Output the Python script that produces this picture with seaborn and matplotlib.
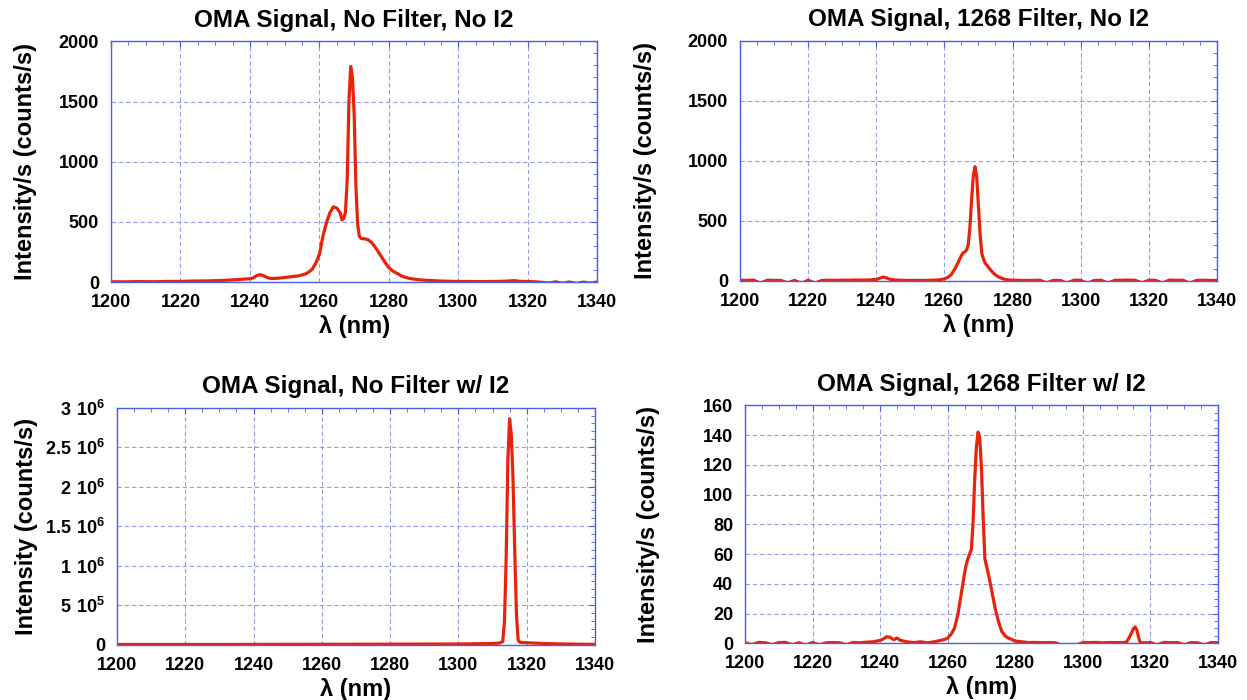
import matplotlib
matplotlib.use('Agg')
import matplotlib.pyplot as plt
import seaborn as sns
from matplotlib.ticker import MultipleLocator, AutoMinorLocator, FixedLocator, FixedFormatter

sns.set_theme(style='white')
plt.rcParams['font.family'] = ['Liberation Sans', 'DejaVu Sans']
plt.rcParams['font.weight'] = 'bold'
plt.rcParams['text.color'] = 'black'
plt.rcParams['axes.labelcolor'] = 'black'
plt.rcParams['mathtext.fontset'] = 'custom'
plt.rcParams['mathtext.rm'] = 'Liberation Sans:bold'
plt.rcParams['mathtext.bf'] = 'Liberation Sans:bold'

RED = '#e8230c'
BLUE = '#4a5ee6'
GRID = '#959cf0'

# --- No filter, no I2 ---
wl_a = [1200, 1204, 1208, 1212, 1216, 1220, 1224, 1228, 1232, 1236,
        1238, 1240, 1241, 1242, 1243, 1244, 1245, 1246, 1248, 1250,
        1252, 1254, 1256, 1257, 1258, 1259, 1260, 1261, 1262, 1263,
        1264, 1265, 1266, 1266.5, 1267, 1267.5, 1268, 1268.5, 1269, 1269.5,
        1270, 1270.5, 1271, 1271.5, 1272, 1273, 1274, 1275, 1276, 1277,
        1278, 1279, 1280, 1281, 1282, 1284, 1286, 1288, 1290, 1294,
        1298, 1302, 1306, 1310, 1314, 1316, 1318, 1322, 1326, 1328,
        1330, 1332, 1334, 1336, 1338, 1340]
sig_a = [3, 2, 4, 3, 5, 6, 9, 10, 14, 20,
         24, 28, 35, 55, 62, 52, 38, 30, 32, 38,
         45, 52, 68, 85, 110, 160, 230, 380, 490, 575,
         625, 615, 575, 515, 530, 580, 850, 1500, 1790, 1700,
         1400, 800, 480, 380, 362, 360, 352, 330, 292, 250,
         205, 160, 120, 95, 78, 46, 30, 22, 16, 10,
         6, 5, 4, 5, 8, 12, 6, 3, -8, 2,
         -10, 1, -12, 0, -9, 1]

# --- 1268 filter, no I2 ---
wl_b = [1200, 1202, 1204, 1206, 1208, 1210, 1212, 1214, 1216, 1218,
        1220, 1222, 1224, 1226, 1228, 1230, 1232, 1234, 1236, 1238,
        1240, 1241, 1242, 1243, 1244, 1246, 1248, 1250, 1252, 1254,
        1256, 1258, 1259, 1260, 1261, 1262, 1263, 1264, 1265, 1265.5,
        1266, 1266.5, 1267, 1267.5, 1268, 1268.5, 1269, 1269.5, 1270, 1270.5,
        1271, 1271.5, 1272, 1273, 1274, 1275, 1276, 1277, 1278, 1279,
        1280, 1282, 1284, 1286, 1288, 1290, 1292, 1294, 1296, 1298,
        1300, 1302, 1304, 1306, 1308, 1310, 1312, 1314, 1316, 1318,
        1320, 1322, 1324, 1326, 1328, 1330, 1332, 1334, 1336, 1338,
        1340]
sig_b = [4, 3, 5, -20, 4, 3, 2, -18, 3, -22,
         4, -20, 2, 4, 3, 5, 4, 6, 5, 6,
         10, 20, 30, 24, 12, 5, 3, 2, 3, 2,
         4, 6, 10, 15, 28, 50, 95, 150, 210, 232,
         240, 255, 300, 450, 680, 880, 950, 860, 620, 380,
         225, 180, 145, 110, 75, 48, 30, 18, 10, 6,
         4, 3, 2, 3, 4, -18, 3, 2, -20, 4,
         3, -22, 2, 4, -20, 3, 4, 5, 3, -18,
         4, 3, -20, 5, 3, 4, -22, 3, 4, 2,
         3]

# --- No filter, with I2 ---
wl_c = [1200, 1220, 1240, 1260, 1280, 1300, 1305, 1310, 1312, 1313,
        1313.5, 1314, 1314.5, 1315, 1315.5, 1316, 1316.5, 1317, 1317.5, 1318,
        1320, 1325, 1330, 1335, 1340]
sig_c = [3e3, 3e3, 4e3, 5e3, 7e3, 9e3, 12e3, 15e3, 20e3, 40e3,
         3.0e5, 1.1e6, 2.35e6, 2.86e6, 2.66e6, 2.1e6, 1.2e6, 4.0e5, 6e4, 3e4,
         2.5e4, 1.5e4, 1e4, 6e3, 5e3]

# --- 1268 filter, with I2 ---
wl_d = [1200, 1202, 1204, 1206, 1208, 1210, 1212, 1214, 1216, 1218,
        1220, 1222, 1224, 1226, 1228, 1230, 1232, 1234, 1236, 1238,
        1240, 1241, 1242, 1243, 1244, 1245, 1246, 1248, 1250, 1252,
        1254, 1256, 1258, 1259, 1260, 1261, 1262, 1263, 1264, 1265,
        1265.5, 1266, 1266.5, 1267, 1267.5, 1268, 1268.5, 1269, 1269.5, 1270,
        1270.5, 1271, 1271.5, 1272, 1273, 1274, 1275, 1276, 1277, 1278,
        1279, 1280, 1282, 1284, 1286, 1288, 1290, 1292, 1294, 1296,
        1298, 1300, 1302, 1304, 1306, 1308, 1310, 1312, 1313, 1314,
        1315, 1315.5, 1316, 1316.5, 1317, 1318, 1320, 1322, 1324, 1326,
        1328, 1330, 1332, 1334, 1336, 1338, 1340]
sig_d = [0.5, -1, 0.6, 0.4, -1, 0.5, 0.6, -1, 0.4, -1.2,
         0.5, -1, 0.3, 0.5, 0.4, -1, 0.6, 0.3, 0.8, 1,
         2, 3, 4.5, 4, 2.5, 3.5, 2, 1, 0.5, 1,
         0.3, 1, 2, 2.5, 3.5, 6, 10, 19, 33, 47,
         53, 57, 60, 63, 80, 110, 132, 142, 138, 118,
         85, 57, 52, 47, 36, 24, 15, 8, 5, 3.5,
         2.5, 1.5, 1, 0.5, 0.6, 0.4, 0.5, 0.3, -1.5, -1.5,
         -1.2, 0.4, 0.5, 0.6, 0.3, 0.5, 0.5, 0.4, 1, 5,
         10, 11, 9, 4, 0.5, 0.3, 0.5, -1, 0.6, 0.4,
         0.5, -1, 0.5, 0.3, -1, 0.5, 0.4]

panels = [
    dict(wl=wl_a, sig=sig_a, title='OMA Signal, No Filter, No I2',
         ylabel='Intensity/s (counts/s)', ymax=2000, major=500, minor=5,
         pos=[0.089, 0.597, 0.390, 0.344], ylab_x=-0.152),
    dict(wl=wl_b, sig=sig_b, title='OMA Signal, 1268 Filter, No I2',
         ylabel='Intensity/s (counts/s)', ymax=2000, major=500, minor=5,
         pos=[0.5934, 0.599, 0.3825, 0.343], ylab_x=-0.174),
    dict(wl=wl_c, sig=sig_c, title='OMA Signal, No Filter w/ I2',
         ylabel='Intensity (counts/s)', ymax=3e6, major=5e5, minor=5,
         pos=[0.0938, 0.079, 0.3833, 0.3386], ylab_x=-0.165),
    dict(wl=wl_d, sig=sig_d, title='OMA Signal, 1268 Filter w/ I2',
         ylabel='Intensity/s (counts/s)', ymax=160, major=20, minor=4,
         pos=[0.5974, 0.081, 0.3793, 0.340], ylab_x=-0.180),
]

sci_labels = ['0', r'$\mathbf{5\ 10^{5}}$', r'$\mathbf{1\ 10^{6}}$',
              r'$\mathbf{1.5\ 10^{6}}$', r'$\mathbf{2\ 10^{6}}$',
              r'$\mathbf{2.5\ 10^{6}}$', r'$\mathbf{3\ 10^{6}}$']

fig = plt.figure(figsize=(12.47, 7), dpi=100)
for i, p in enumerate(panels):
    ax = fig.add_axes(p['pos'])
    ax.set_axisbelow(True)
    ax.grid(True, which='major', color=GRID, linestyle=(0, (4, 2.5)), linewidth=0.8)
    sns.lineplot(x=p['wl'], y=p['sig'], ax=ax, color=RED, linewidth=2.3,
                 sort=False, estimator=None)
    ax.set_xlim(1200, 1340)
    ax.set_ylim(0, p['ymax'])
    ax.xaxis.set_major_locator(MultipleLocator(20))
    ax.xaxis.set_minor_locator(MultipleLocator(5))
    ax.yaxis.set_major_locator(MultipleLocator(p['major']))
    ax.yaxis.set_minor_locator(AutoMinorLocator(p['minor']))
    if i == 2:
        ax.yaxis.set_major_locator(FixedLocator([k * 5e5 for k in range(7)]))
        ax.yaxis.set_major_formatter(FixedFormatter(sci_labels))
    for s in ax.spines.values():
        s.set_color(BLUE)
        s.set_linewidth(1.0)
    ax.tick_params(which='both', direction='in', top=True, right=True,
                   color=BLUE, labelcolor='black', labelsize=13, pad=8.5)
    ax.tick_params(which='major', length=4, width=0.8)
    ax.tick_params(which='minor', length=3, width=0.6)
    ax.set_title(p['title'], fontsize=17.5, fontweight='bold', pad=10.5)
    ax.set_xlabel('λ (nm)', fontsize=17, fontweight='bold', labelpad=3)
    ax.set_ylabel(p['ylabel'], fontsize=17, fontweight='bold')
    ax.yaxis.set_label_coords(p['ylab_x'], 0.5)

fig.savefig('out.png', dpi=100)
